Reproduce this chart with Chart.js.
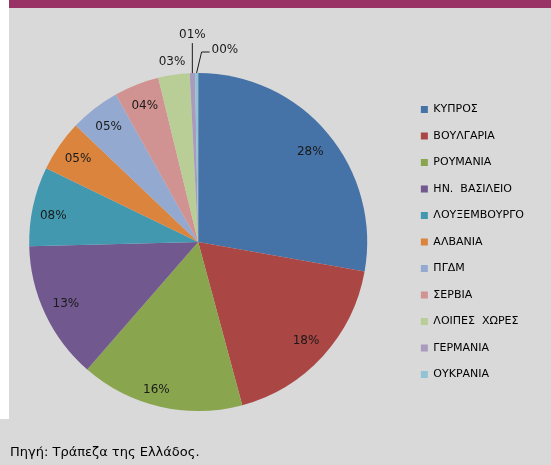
<!DOCTYPE html>
<html><head><meta charset="utf-8">
<script src="https://cdn.jsdelivr.net/npm/chart.js@4/dist/chart.umd.min.js"></script>
<style>
html,body{margin:0;padding:0;}
body{width:551px;height:465px;position:relative;overflow:hidden;background:#d9d9d9;}
#strip{position:absolute;left:0;top:0;width:9px;height:419px;background:#fff;}
#bar{position:absolute;left:9px;top:0;width:542px;height:8px;background:#993366;}
#wrap{position:absolute;left:-9px;top:0;width:560px;height:465px;}
#src{position:absolute;left:10px;top:444px;font:13px "DejaVu Sans";color:#000;white-space:nowrap;}
</style></head><body>
<div id="strip"></div>
<div id="bar"></div>
<div id="wrap"><canvas id="c" width="560" height="465"></canvas></div>
<div id="src">Πηγή: Τράπεζα της Ελλάδος.</div>
<script>
const categories = ['ΚΥΠΡΟΣ','ΒΟΥΛΓΑΡΙΑ','ΡΟΥΜΑΝΙΑ','ΗΝ.  ΒΑΣΙΛΕΙΟ','ΛΟΥΞΕΜΒΟΥΡΓΟ','ΑΛΒΑΝΙΑ','ΠΓΔΜ','ΣΕΡΒΙΑ','ΛΟΙΠΕΣ  ΧΩΡΕΣ','ΓΕΡΜΑΝΙΑ','ΟΥΚΡΑΝΙΑ'];
const shares = [27.8, 18.0, 15.6, 13.2, 7.6, 4.9, 4.8, 4.3, 3.0, 0.5, 0.3];
const sliceColors = ['#4572A7','#AA4643','#89A54E','#71588F','#4198AF','#DB843D','#93A9CF','#D19392','#B9CD96','#A99BBD','#92C3D4'];

const sliceLabels = {
  id: 'sliceLabels',
  afterDatasetsDraw(chart, args, opts) {
    const ctx = chart.ctx;
    const meta = chart.getDatasetMeta(0);
    const vals = chart.data.datasets[0].data;
    ctx.save();
    ctx.font = opts.font;
    ctx.fillStyle = opts.color;
    ctx.strokeStyle = opts.color;
    ctx.lineWidth = 1;
    ctx.textBaseline = 'middle';
    meta.data.forEach((arc, i) => {
      const {x, y, startAngle, endAngle, outerRadius} = arc;
      const mid = (startAngle + endAngle) / 2;
      const text = String(Math.round(vals[i])).padStart(2, '0') + '%';
      const spec = opts.outside[i];
      if (!spec) {
        const n = opts.nudge[i] || [0, 0];
        const r = outerRadius * opts.insideFraction;
        ctx.textAlign = 'center';
        ctx.fillText(text, x + r * Math.cos(mid) + n[0], y + r * Math.sin(mid) + n[1]);
      } else if (spec.leader) {
        let px = x + outerRadius * Math.cos(mid), py = y + outerRadius * Math.sin(mid);
        ctx.beginPath();
        ctx.moveTo(px, py);
        spec.leader.forEach(([dx, dy]) => { px += dx; py += dy; ctx.lineTo(px, py); });
        ctx.stroke();
        ctx.textAlign = spec.align;
        ctx.fillText(text, px + spec.text[0], py + spec.text[1]);
      } else {
        const r = outerRadius + spec.gap;
        ctx.textAlign = 'center';
        ctx.fillText(text, x + r * Math.cos(mid), y + r * Math.sin(mid));
      }
    });
    ctx.restore();
  }
};

Chart.defaults.font.family = '"DejaVu Sans", sans-serif';
new Chart(document.getElementById('c'), {
  type: 'pie',
  data: {
    labels: categories,
    datasets: [{ data: shares, backgroundColor: sliceColors, borderWidth: 0, hoverOffset: 0 }]
  },
  options: {
    responsive: false,
    devicePixelRatio: 1,
    animation: false,
    layout: { padding: { left: 0, right: 17, top: 73, bottom: 54 } },
    plugins: {
      tooltip: { enabled: false },
      legend: {
        position: 'right',
        labels: { boxWidth: 7, boxHeight: 7, padding: 15.5, color: '#000', font: { size: 11 } }
      },
      sliceLabels: {
        font: '12px "DejaVu Sans"',
        color: '#1a1a1a',
        insideFraction: 0.865,
        nudge: { 0: [0, 4], 2: [-9, 5], 4: [-2, 5] },
        outside: {
          8: { gap: 13 },
          9: { leader: [[0, -30]], text: [0, -8], align: 'center' },
          10: { leader: [[5, -21], [8, 0]], text: [2, -2], align: 'left' }
        }
      }
    }
  },
  plugins: [sliceLabels]
});
</script>
</body></html>
